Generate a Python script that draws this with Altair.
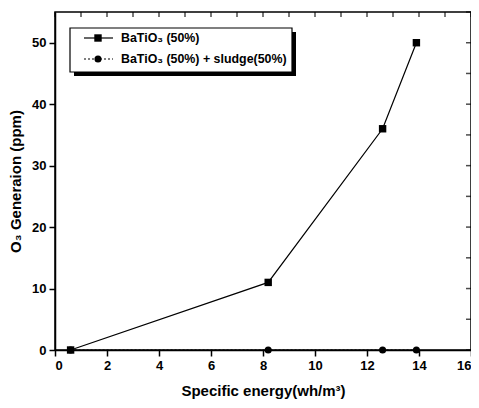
import altair as alt
import pandas as pd

# data
x_energy = [0.6, 8.2, 12.6, 13.9]
o3_batio3 = [0, 11, 36, 50]
o3_sludge = [0, 0, 0, 0]
series_names = ["BaTiO₃ (50%)", "BaTiO₃ (50%) + sludge(50%)"]
x_all = list(range(0, 17))
y_all = list(range(0, 56, 5))

FONT = "Liberation Sans"
W, H = 416, 338

df1 = pd.DataFrame({"x": x_energy, "y": o3_batio3})
df2 = pd.DataFrame({"x": x_energy, "y": o3_sludge})

xs = alt.Scale(domain=[0, 16], nice=False)
ys = alt.Scale(domain=[0, 55], nice=False)

xaxis = alt.Axis(
    values=x_all,
    labelExpr="datum.value % 2 == 0 ? datum.label : ''",
    tickSize={"condition": {"test": "datum.value % 2 == 0", "value": 6}, "value": 3},
    tickColor="black", tickWidth=1.5, domainColor="black", domainWidth=1.5,
    labelFont=FONT, labelFontWeight="bold", labelFontSize=13, labelColor="black",
    labelPadding=3, grid=False,
    title="Specific energy(wh/m³)", titleFont=FONT, titleFontWeight="bold",
    titleFontSize=15, titleColor="black", titlePadding=11,
)
yaxis = alt.Axis(
    values=y_all,
    labelExpr="datum.value % 10 == 0 ? datum.label : ''",
    tickSize={"condition": {"test": "datum.value % 10 == 0", "value": 6}, "value": 3},
    tickColor="black", tickWidth=1.5, domainColor="black", domainWidth=1.5,
    labelFont=FONT, labelFontWeight="bold", labelFontSize=13, labelColor="black",
    labelPadding=3, grid=False,
    title="O₃ Generaion (ppm)", titleFont=FONT, titleFontWeight="bold",
    titleFontSize=15, titleColor="black", titlePadding=8,
)

line1 = alt.Chart(df1).mark_line(color="black", strokeWidth=1.2).encode(
    x=alt.X("x:Q", scale=xs, axis=xaxis),
    y=alt.Y("y:Q", scale=ys, axis=yaxis),
)
pts1 = alt.Chart(df1).mark_point(shape="square", filled=True, color="black", size=55, opacity=1).encode(
    x=alt.X("x:Q", scale=xs), y=alt.Y("y:Q", scale=ys)
)
line2 = alt.Chart(df2).mark_line(color="black", strokeWidth=1, strokeDash=[2, 2]).encode(
    x=alt.X("x:Q", scale=xs), y=alt.Y("y:Q", scale=ys)
)
pts2 = alt.Chart(df2).mark_point(shape="circle", filled=True, color="black", size=50, opacity=1).encode(
    x=alt.X("x:Q", scale=xs), y=alt.Y("y:Q", scale=ys)
)

# inward ticks on top and right
tx = pd.DataFrame({"v": x_all})
ty = pd.DataFrame({"v": y_all})
top_ticks = alt.Chart(tx).mark_tick(color="black", thickness=1.5, orient="vertical", size=5).encode(
    x=alt.X("v:Q", scale=xs), y=alt.value(2.5)
)
right_ticks = alt.Chart(ty).mark_tick(color="black", thickness=1.5, orient="horizontal", size=5).encode(
    y=alt.Y("v:Q", scale=ys), x=alt.value(W - 2.5)
)

# legend box (decoration)
lx0, lx1, ly0, ly1 = 15, 237, 16, 60
one = pd.DataFrame({"a": [0]})
shadow = alt.Chart(one).mark_rect(color="black").encode(
    x=alt.value(lx0 + 4), x2=alt.value(lx1 + 4), y=alt.value(ly0 + 4), y2=alt.value(ly1 + 4)
)
box = alt.Chart(one).mark_rect(fill="white", stroke="black", strokeWidth=1.2).encode(
    x=alt.value(lx0), x2=alt.value(lx1), y=alt.value(ly0), y2=alt.value(ly1)
)
leg_line1 = alt.Chart(one).mark_rule(color="black", strokeWidth=1.2).encode(
    x=alt.value(29), x2=alt.value(58), y=alt.value(26)
)
leg_pt1 = alt.Chart(one).mark_point(shape="square", filled=True, color="black", size=55, opacity=1).encode(
    x=alt.value(43), y=alt.value(26)
)
leg_line2 = alt.Chart(one).mark_rule(color="black", strokeWidth=1, strokeDash=[2, 2]).encode(
    x=alt.value(29), x2=alt.value(58), y=alt.value(47)
)
leg_pt2 = alt.Chart(one).mark_point(shape="circle", filled=True, color="black", size=50, opacity=1).encode(
    x=alt.value(43), y=alt.value(47)
)
leg_text = alt.Chart(pd.DataFrame({"t": series_names, "yy": [26, 47]})).mark_text(
    align="left", baseline="middle", font=FONT, fontWeight="bold", fontSize=12.4, color="black"
).encode(x=alt.value(66), y=alt.Y("yy:Q", scale=None), text="t:N")

chart = alt.layer(
    line1, line2, pts2, pts1, top_ticks, right_ticks,
    shadow, box, leg_line1, leg_pt1, leg_line2, leg_pt2, leg_text,
).properties(
    width=W, height=H,
    autosize=alt.AutoSizeParams(type="none"),
    padding={"left": 47, "top": 4, "right": 0, "bottom": 50},
    background="white",
).configure_view(stroke="black", strokeWidth=1.5)

chart.save("out.html", embed_options={"renderer": "svg", "actions": False})
